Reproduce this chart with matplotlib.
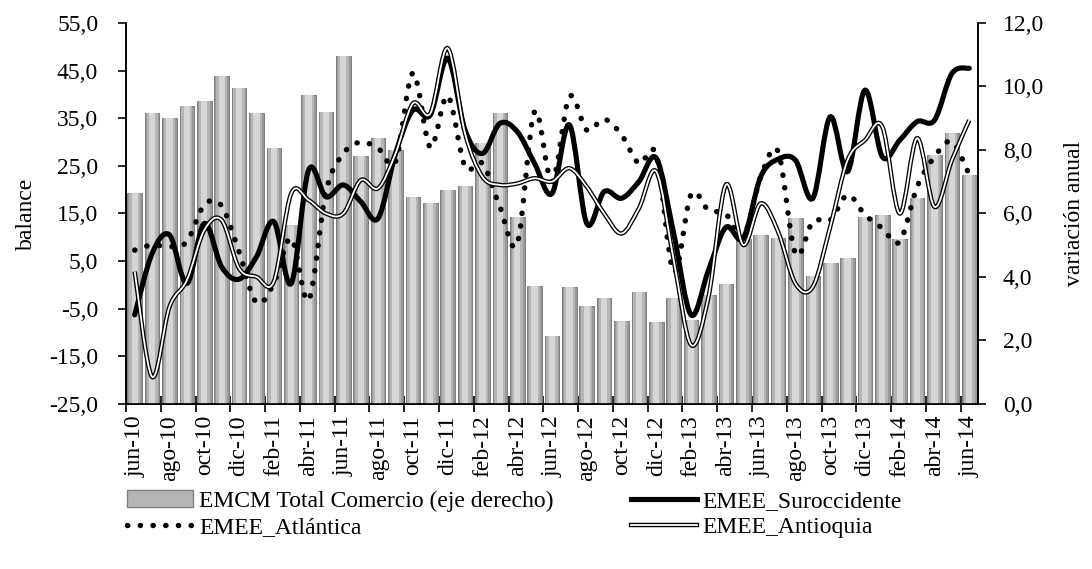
import numpy as np
import matplotlib.pyplot as plt
from matplotlib.path import Path
from matplotlib.patches import PathPatch
from matplotlib.lines import Line2D
from matplotlib.ticker import FuncFormatter, FixedLocator

plt.rcParams['font.family'] = ['Liberation Serif', 'DejaVu Serif']

# --- datos ---
meses = ["jun-10", "jul-10", "ago-10", "sep-10", "oct-10", "nov-10", "dic-10",
         "ene-11", "feb-11", "mar-11", "abr-11", "may-11", "jun-11", "jul-11",
         "ago-11", "sep-11", "oct-11", "nov-11", "dic-11", "ene-12", "feb-12",
         "mar-12", "abr-12", "may-12", "jun-12", "jul-12", "ago-12", "sep-12",
         "oct-12", "nov-12", "dic-12", "ene-13", "feb-13", "mar-13", "abr-13",
         "may-13", "jun-13", "jul-13", "ago-13", "sep-13", "oct-13", "nov-13",
         "dic-13", "ene-14", "feb-14", "mar-14", "abr-14", "may-14", "jun-14"]

emcm_total = [6.65, 9.17, 9.02, 9.40, 9.54, 10.33, 9.95, 9.17, 8.05, 5.64, 9.73,
              9.21, 10.97, 7.81, 8.39, 8.00, 6.53, 6.32, 6.74, 6.88, 8.21, 9.16,
              5.88, 3.72, 2.14, 3.67, 3.10, 3.33, 2.61, 3.52, 2.57, 3.35, 2.65,
              3.43, 3.78, 5.19, 5.31, 5.22, 5.85, 4.03, 4.43, 4.61, 5.88, 5.95,
              5.19, 6.50, 7.83, 8.52, 7.21]

suroccidente = [-6.3, 6.6, 10.5, 0.3, 12.9, 3.8, 1.2, 5.9, 13.3, 0.3, 24.1, 18.5,
                21.0, 17.5, 14.0, 27.6, 36.7, 35.7, 47.6, 32.5, 27.6, 33.9, 32.2,
                25.5, 19.2, 33.6, 12.9, 19.6, 18.2, 21.7, 26.6, 10.8, -6.3, 3.1,
                12.1, 9.8, 22.7, 26.4, 26.2, 18.2, 35.3, 23.8, 40.9, 26.9, 30.4,
                34.3, 34.6, 44.4, 45.5]

atlantica = [7.3, 8.4, 8.0, 9.1, 16.8, 16.6, 7.0, -3.7, 0.3, 9.8, -3.2, 19.6,
             27.6, 30.0, 28.7, 25.9, 44.5, 28.9, 39.7, 24.8, 25.5, 16.4, 8.7,
             36.4, 21.7, 39.5, 32.5, 34.8, 31.5, 25.5, 27.3, 2.8, 19.0, 15.7,
             14.9, 10.1, 22.6, 28.0, 6.6, 13.3, 13.6, 18.9, 14.7, 11.9, 9.1,
             20.6, 26.9, 30.1, 23.1]

antioquia = [2.8, -19.3, -4.6, 1.0, 11.5, 13.6, 3.5, 1.7, 0.7, 19.2, 17.8, 15.0,
             15.0, 22.0, 20.3, 27.6, 38.1, 36.0, 49.7, 31.8, 22.7, 21.0, 21.3,
             22.4, 21.7, 24.5, 20.6, 15.0, 10.8, 16.1, 23.8, 5.2, -12.6, -2.5,
             21.0, 8.4, 17.1, 11.2, 0.3, -0.4, 12.2, 26.2, 30.4, 33.2, 15.0,
             30.8, 16.4, 26.2, 34.6]


def curva_suave(x, y):
    # trazo suavizado tipo Excel (Catmull-Rom pasado a Bezier cubica)
    x = np.asarray(x, float)
    y = np.asarray(y, float)
    n = len(x)
    verts = [(x[0], y[0])]
    codes = [Path.MOVETO]
    for i in range(n - 1):
        i0 = max(i - 1, 0)
        i3 = min(i + 2, n - 1)
        c1 = (x[i] + (x[i + 1] - x[i0]) / 6, y[i] + (y[i + 1] - y[i0]) / 6)
        c2 = (x[i + 1] - (x[i3] - x[i]) / 6, y[i + 1] - (y[i3] - y[i]) / 6)
        verts += [c1, c2, (x[i + 1], y[i + 1])]
        codes += [Path.CURVE4] * 3
    return Path(verts, codes)


x = np.arange(len(meses))
punteado = (0, (0.05, 2.3))

fig = plt.figure(figsize=(10.92, 5.69), dpi=100)
ax = fig.add_axes([0.1154, 0.29, 0.7802, 0.6696])   # barras (eje derecho)
ax2 = ax.twinx()                                     # lineas (eje izquierdo)

# barras con degradado simple (capas)
ax.bar(x, emcm_total, width=0.84, color="#999999", edgecolor="#7f7f7f", linewidth=0.7, zorder=2)
ax.bar(x, emcm_total, width=0.64, color="#b5b5b5", linewidth=0, zorder=3)
ax.bar(x, emcm_total, width=0.36, color="#d6d6d6", linewidth=0, zorder=4)
ax.set_ylim(0, 12)
ax.set_xlim(-0.5, len(meses) - 0.5)

# lineas suavizadas
ax2.add_patch(PathPatch(curva_suave(x, suroccidente), fill=False, lw=3.7, ec="black",
                        capstyle="round", joinstyle="round", zorder=3))
ax2.add_patch(PathPatch(curva_suave(x, atlantica), fill=False, lw=3.9, ec="black",
                        linestyle=punteado, capstyle="round", zorder=4))
ax2.add_patch(PathPatch(curva_suave(x, antioquia), fill=False, lw=3.2, ec="black", zorder=5))
ax2.add_patch(PathPatch(curva_suave(x, antioquia), fill=False, lw=1.3, ec="white", zorder=6))
ax2.set_ylim(-25, 55)

# ejes
ax.yaxis.tick_right()
ax.yaxis.set_label_position("right")
ax2.yaxis.tick_left()
ax2.yaxis.set_label_position("left")
ax.set_yticks(np.arange(0, 12.1, 2))
ax2.set_yticks(np.arange(-25, 55.1, 10))
coma = FuncFormatter(lambda v, p: f"{v:.1f}".replace(".", ","))
ax.yaxis.set_major_formatter(coma)
ax2.yaxis.set_major_formatter(coma)

ax.set_xticks(x[::2])
ax.set_xticklabels(meses[::2], rotation=90)
ax.xaxis.set_minor_locator(FixedLocator(np.arange(-0.5, len(meses), 2)))
ax.tick_params(axis="x", which="major", length=0, pad=8, labelsize=17)
ax.tick_params(axis="x", which="minor", length=11, width=1.2, direction="inout")
ax.tick_params(axis="y", length=6, width=1.2, direction="out", pad=12, labelsize=17)
ax2.tick_params(axis="y", length=6, width=1.2, direction="out", pad=14, labelsize=17)

for a in (ax, ax2):
    a.spines["top"].set_visible(False)
    for s in ("left", "right", "bottom"):
        a.spines[s].set_linewidth(1.2)

ax2.set_ylabel("balance", fontsize=17, labelpad=9)
ax.set_ylabel("variación anual", fontsize=17, labelpad=14)

# leyenda
h_bar = plt.Rectangle((0, 0), 1, 1, fc="#b5b5b5", ec="#7f7f7f")
h_sur = Line2D([], [], color="black", lw=3.7)
h_atl = Line2D([], [], color="black", lw=3.9, linestyle=punteado, dash_capstyle="round")
h_ant = (Line2D([], [], color="black", lw=3.2), Line2D([], [], color="white", lw=1.3))
fig.legend([h_bar, h_atl, h_sur, h_ant],
           ["EMCM Total Comercio (eje derecho)", "EMEE_Atlántica",
            "EMEE_Suroccidente", "EMEE_Antioquia"],
           ncol=2, loc="upper left", bbox_to_anchor=(0.108, 0.155), frameon=False,
           fontsize=17, handlelength=2.8, handletextpad=0.25, columnspacing=3.25,
           labelspacing=0.2, borderaxespad=0)

fig.savefig("out.png", dpi=100)
